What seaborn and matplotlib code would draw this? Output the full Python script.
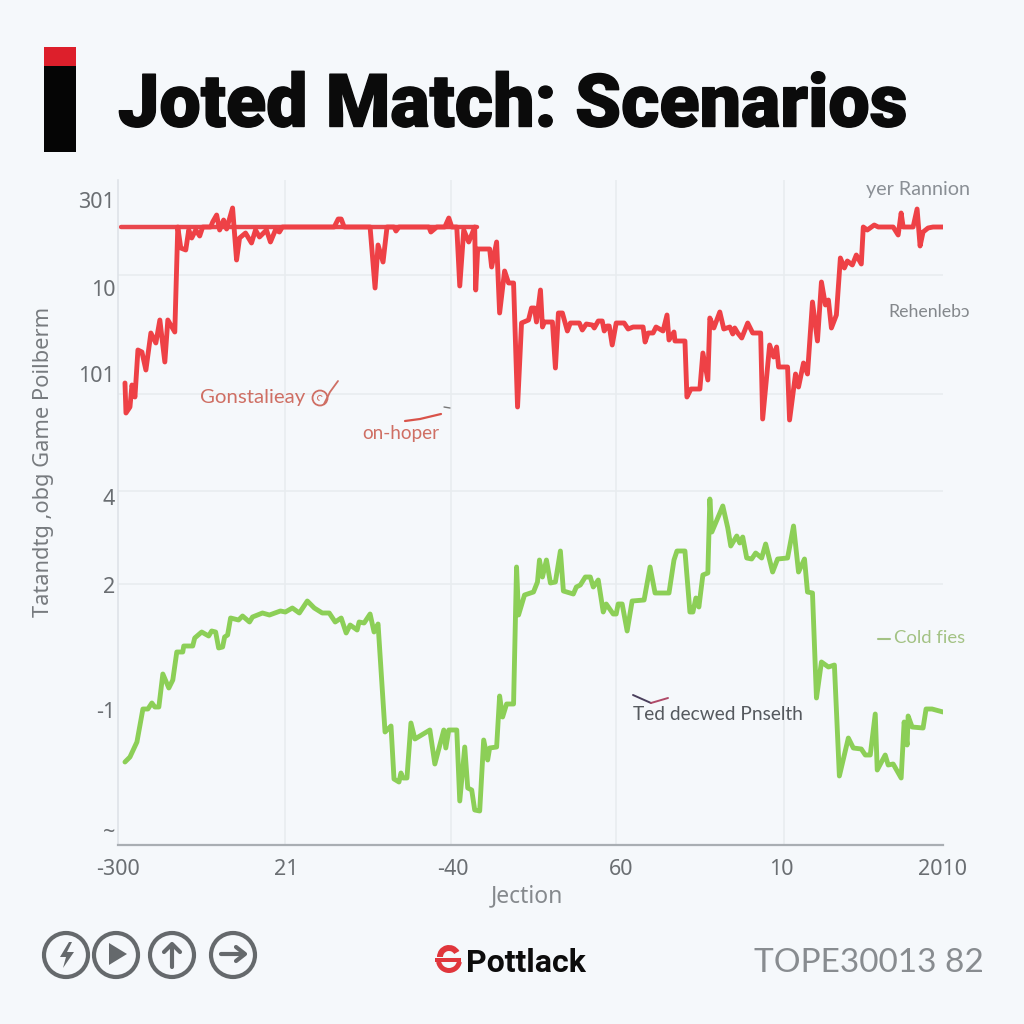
import matplotlib
matplotlib.use('Agg')
import matplotlib.pyplot as plt
import matplotlib.patheffects as pe
from matplotlib.patches import Circle, Polygon, Rectangle, Wedge
import pandas as pd
import seaborn as sns

# values
red_x = [4,5,9,11,14,17,21,25,30,35,39,44,47,54,57,60,65,68,71,75,79,82,90,92,96,99,103,106,112,116,
         119,125,131,135,139,146,150,155,159,162,214,218,221,224,250,255,258,263,267,274,276,279,309,311,317,
         325,329,332,337,340,344,349,355,356,358,370,372,377,380,385,389,394,398,
         402,409,412,415,417,421,423,425,433,436,439,443,448,451,460,463,467,473,475,479,483,485,488,490,493,
         497,505,509,514,524,526,529,534,537,544,548,550,555,556,566,568,572,581,584,589,591,595,601,605,611,
         614,616,619,623,629,634,642,644,651,655,658,660,669,671,677,680,685,689,694,699,703,707,710,713,718,
         722,726,729,734,738,743,745,749,756,760,775,780,783,785,795,799,802,805,810,815,825]
red_y = [462,432,438,460,448,495,493,475,512,502,525,483,525,513,618,597,595,615,607,615,609,618,618,623,630,615,625,616,637,585,
         607,612,602,615,608,615,603,615,613,618,618,626,626,618,618,557,600,583,618,618,614,618,618,613,618,
         618,627,618,618,559,615,603,618,555,596,596,578,603,532,574,562,562,438,
         522,525,537,537,523,555,518,523,523,477,532,532,514,522,522,515,521,520,517,524,524,514,519,519,500,
         522,522,516,518,518,503,512,512,518,514,530,505,513,504,504,448,456,456,492,465,527,517,533,516,518,
         511,517,512,507,522,512,512,426,500,488,498,478,478,425,471,458,482,471,543,504,563,540,545,517,530,
         587,577,584,580,590,581,618,615,620,618,618,610,632,618,618,636,599,613,617,618,618]
cap_x = [0, 357]
cap_y = [618, 618]

green_x = [4,9,16,22,27,31,34,38,42,48,52,56,62,63,72,74,81,88,91,95,98,102,104,107,110,118,122,129,132,142,
           149,160,165,172,179,187,194,202,209,215,221,226,230,237,239,244,250,254,258,265,271,274,279,281,283,287,
           291,295,310,315,324,326,329,337,340,345,348,352,355,360,364,368,370,377,380,383,387,394,397,399,
           405,414,418,420,423,427,431,436,441,444,454,457,461,466,471,474,479,484,487,494,497,499,503,508,513,
           525,531,536,550,555,558,566,571,574,577,580,584,589,591,593,604,609,612,618,621,624,628,633,637,643,
           647,654,659,669,675,680,686,689,694,698,703,710,716,721,730,735,743,747,752,757,759,767,770,775,783,
           786,789,790,794,805,808,814,825]
green_y = [83,88,103,136,136,142,138,138,171,157,165,193,193,199,199,207,213,209,214,213,197,198,208,210,227,225,229,223,228,232,
           230,234,233,237,232,244,237,232,232,223,227,212,220,215,223,222,231,213,221,113,119,66,63,72,67,67,
           122,106,115,81,115,97,115,115,44,98,57,55,35,34,105,85,97,98,149,128,141,141,278,230,
           250,253,263,285,268,285,262,263,294,254,251,258,260,268,268,258,265,233,241,231,231,241,241,214,244,
           245,278,252,252,285,294,294,233,233,247,238,270,272,346,313,339,317,299,309,302,308,287,286,292,287,
           301,273,286,287,319,273,286,253,252,147,183,178,180,69,107,97,96,90,90,131,75,90,80,81,67,
           123,100,129,118,117,136,136,133]

x_grid = [165, 331, 497, 665]
y_grid = [261, 354, 451, 570]
x_ticks = [-3, 166, 333, 502, 663, 824]
x_labels = ['-300', '21', '-40', '60', '10', '2010']
y_ticks = [15, 135, 260, 348, 471, 557, 645]
y_labels = ['~', '-1', '2', '4', '101', '10', '301']

title = 'Joted Match: Scenarios'
RED = '#ee4146'
GREEN = '#8ccf57'
BG = '#f5f8fb'
GREY = '#6a6e72'

sns.set_theme(style='white')
plt.rcParams['font.family'] = ['Noto Sans', 'DejaVu Sans']

fig = plt.figure(figsize=(10.24, 10.24), dpi=100, facecolor=BG)
ax = fig.add_axes([118/1024, 1-845/1024, 825/1024, 665/1024], facecolor=BG)

red = pd.DataFrame({'section': red_x, 'level': red_y})
green = pd.DataFrame({'section': green_x, 'level': green_y})
cap = pd.DataFrame({'section': cap_x, 'level': cap_y})
sns.lineplot(data=cap, x='section', y='level', color='#e9474d', lw=3.2, estimator=None, sort=False, ax=ax)
sns.lineplot(data=red, x='section', y='level', color=RED, lw=3.5, estimator=None, sort=False, ax=ax)
sns.lineplot(data=green, x='section', y='level', color=GREEN, lw=3.5, estimator=None, sort=False, ax=ax)

ax.set_xlim(0, 825)
ax.set_ylim(0, 665)
ax.set_xlabel('')
ax.set_ylabel('')
ax.set_xticks(x_ticks, x_labels)
ax.set_yticks(y_ticks, y_labels)
ax.set_xticks(x_grid, minor=True)
ax.set_yticks(y_grid, minor=True)
ax.grid(which='minor', color='#e8ecef', lw=1.2)
ax.set_axisbelow(True)
ax.tick_params(which='both', length=0)
ax.tick_params(axis='x', labelsize=15.5, labelcolor=GREY, pad=10)
ax.tick_params(axis='y', labelsize=15.5, labelcolor=GREY, pad=2)
sns.despine(ax=ax, top=True, right=True)
ax.spines['left'].set_color('#dfe3e8')
ax.spines['left'].set_linewidth(1.2)
ax.spines['bottom'].set_color('#a9aeb3')
ax.spines['bottom'].set_linewidth(1.6)

# overlay in picture coordinates for the header, notes and footer
over = fig.add_axes([0, 0, 1, 1], facecolor='none')
over.set_xlim(0, 1024)
over.set_ylim(1024, 0)
over.axis('off')

over.add_patch(Rectangle((44, 47), 32, 19, color='#dd1f2b', lw=0))
over.add_patch(Rectangle((44, 66), 32, 86, color='#050505', lw=0))
over.text(118, 106, title, fontsize=53, family='Roboto', fontweight='black', color='#0b0b0b', va='center', ha='left',
          path_effects=[pe.withStroke(linewidth=1, foreground='#0b0b0b')])

over.text(44, 462, 'Tatandtg ,obg Game Poilberm', rotation=90, fontsize=15.7, color='#777b7f', ha='center', va='center')
over.text(527, 896, 'Jection', fontsize=16.5, color='#85898d', ha='center', va='center')

NOTE = '#cf6f64'
over.text(200, 397, 'Gonstalieay', fontsize=14.7, family='Lato', color=NOTE, va='center')
over.add_patch(Circle((320, 398), 7.5, fill=False, ec=NOTE, lw=1.3))
over.add_patch(Wedge((320, 398), 3, 100, 330, width=1, color=NOTE, lw=0))
over.plot([324, 330, 338], [404, 392, 381], color=NOTE, lw=1.3)
over.text(362, 433, 'on-hoper', fontsize=13.7, family='Lato', color=NOTE, va='center')
over.plot([405, 420, 441], [421, 419, 414], color='#d9534a', lw=1.6)
over.plot([444, 450], [407, 408], color='#777777', lw=1)
over.text(970, 190, 'yer Rannion', fontsize=14.2, family='Lato', color='#8a8f95', ha='right', va='center')
over.text(970, 312, 'Rehenlebɔ', fontsize=12.8, family='Lato', color='#84888c', ha='right', va='center')
over.plot([878, 890], [639, 639], color='#a3c284', lw=1.5)
over.text(894, 638, 'Cold fies', fontsize=13.3, family='Lato', color='#a3c284', va='center')
over.text(633, 715, 'Ted decwed Pnselth', fontsize=13.8, family='Lato', color='#55595e', va='center')
over.plot([633, 651], [695, 703], color='#4a3f5c', lw=1.4)
over.plot([651, 668], [703, 698], color='#b04a68', lw=1.4)

# footer icons
ICON = '#65696c'
for cx in [66, 116, 172, 233]:
    over.add_patch(Circle((cx, 955), 22, fill=False, ec=ICON, lw=3))
over.add_patch(Polygon([[69, 942], [60, 957], [66, 957], [63, 968], [74, 952], [67, 952], [72, 942]], color=ICON, lw=0))
over.add_patch(Polygon([[109, 943], [109, 965], [127, 954]], color=ICON, lw=0))
over.plot([172, 172], [967, 945], color=ICON, lw=3)
over.plot([164, 172, 180], [952, 944, 952], color=ICON, lw=3)
over.plot([221, 244], [954, 954], color=ICON, lw=3)
over.plot([236, 245, 236], [947, 954, 961], color=ICON, lw=3)

# logo and code
over.add_patch(Wedge((449, 957), 12, 180, 330, width=6, color='#e0363c', lw=0))
over.add_patch(Wedge((449, 960), 13, 10, 170, width=5, color='#e0363c', lw=0))
over.add_patch(Rectangle((435, 958), 26, 4, color='#e0363c', lw=0))
over.text(466, 963, 'Pottlack', fontsize=23, family='Roboto', fontweight='bold', color='#0c0c0c', va='center')
over.text(754, 963, 'TOPE30013 82', fontsize=24, family='Lato', color='#888c90', va='center')

fig.savefig('out.png', dpi=100, facecolor=BG)
